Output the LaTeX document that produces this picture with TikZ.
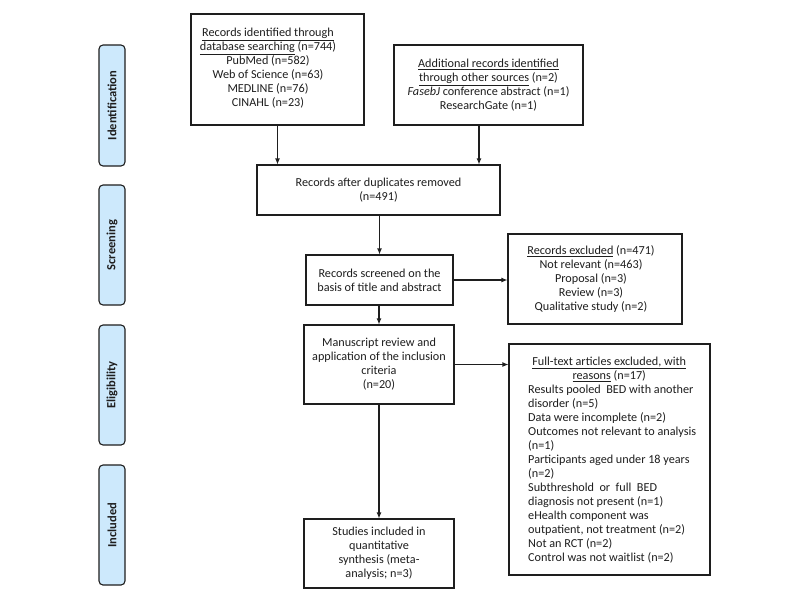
\documentclass[tikz,border=0pt]{standalone}
\usepackage{fontspec}
\setmainfont{Carlito}
\usetikzlibrary{arrows.meta}
\definecolor{phasefill}{RGB}{205,233,252}
\definecolor{ink}{RGB}{30,30,30}
\begin{document}
\begin{tikzpicture}[x=1pt,y=-1pt,
  box/.style={draw=ink, line width=1.1pt, fill=white, align=center, inner sep=0pt,
    font=\fontsize{12.2}{14}\selectfont, text=ink},
  txt/.style={align=center, inner sep=0pt, font=\fontsize{12.2}{14}\selectfont, text=ink},
  phase/.style={draw=ink, line width=1.1pt, fill=phasefill, rounded corners=4pt, rotate=90,
    minimum width=120pt, minimum height=26pt, inner sep=0pt,
    font=\bfseries\fontsize{12.5}{14}\selectfont, text=ink},
  arr/.style={draw=ink, line width=1.1pt, -{Latex[length=6pt,width=5pt]}}]
\fill[white] (0,0) rectangle (800,600);
\useasboundingbox (0,0) rectangle (800,600);

% phase labels
\node[phase, minimum width=121pt] (p1) at (112,105.5) {Identification};
\node[phase] (p2) at (112,245) {Screening};
\node[phase] (p3) at (112,385) {Eligibility};
\node[phase] (p4) at (112,525) {Included};

% boxes
\node[box, minimum width=173pt, minimum height=111pt] (db) at (277.5,69.5) {};
\node[txt] (dbt) at (268,68) {\underline{Records identified through}\\ \underline{database searching} (n=744)\\ PubMed (n=582)\\ Web of Science (n=63)\\ MEDLINE (n=76)\\ CINAHL (n=23)};

\node[box, minimum width=189pt, minimum height=80pt] (other) at (488.5,85) {\underline{Additional records identified}\\ \underline{through other sources} (n=2)\\ \textit{FasebJ} conference abstract (n=1)\\ ResearchGate (n=1)};

\node[box, minimum width=243pt, minimum height=50pt] (dup) at (378.5,190) {Records after duplicates removed\\ (n=491)};

\node[box, minimum width=147pt, minimum height=50pt] (scr) at (379.5,280) {Records screened on the\\ basis of title and abstract};

\node[box, minimum width=174pt, minimum height=90pt] (exc) at (595,279) {};
\node[txt] (exct) at (591,279) {\underline{Records excluded} (n=471)\\ Not relevant (n=463)\\ Proposal (n=3)\\ Review (n=3)\\ Qualitative study (n=2)};

\node[box, minimum width=150pt, minimum height=79pt] (man) at (379,364.5) {Manuscript review and\\ application of the inclusion\\ criteria\\ (n=20)};

\node[box, minimum width=201pt, minimum height=231pt] (full) at (609.5,459.5) {};
\node[txt, align=left, anchor=west] (fullt) at (528,460) {\makebox[162pt]{\underline{Full-text articles excluded, with}}\\ \makebox[162pt]{\underline{reasons} (n=17)}\\ Results pooled\ \ BED with another\\ disorder (n=5)\\ Data were incomplete (n=2)\\ Outcomes not relevant to analysis\\ (n=1)\\ Participants aged under 18 years\\ (n=2)\\ Subthreshold\ \ or\ \ full\ \ BED\\ diagnosis not present (n=1)\\ eHealth component was\\ outpatient, not treatment (n=2)\\ Not an RCT (n=2)\\ Control was not waitlist (n=2)};

\node[box, minimum width=150pt, minimum height=69pt] (inc) at (379,553.5) {Studies included in\\ quantitative\\ synthesis (meta-\\ analysis; n=3)};

% connectors
\draw[arr] (db.south) -- (db.south |- dup.north);
\draw[arr] ([xshift=-9.5pt]other.south) -- ([xshift=-9.5pt]other.south |- dup.north);
\draw[arr] (scr.north |- dup.south) -- (scr.north);
\draw[arr] (scr.east) -- (scr.east -| exc.west);
\draw[arr] (man.north |- scr.south) -- (man.north);
\draw[arr] (man.east) -- (man.east -| full.west);
\draw[arr] (man.south) -- (inc.north);
\end{tikzpicture}
\end{document}
